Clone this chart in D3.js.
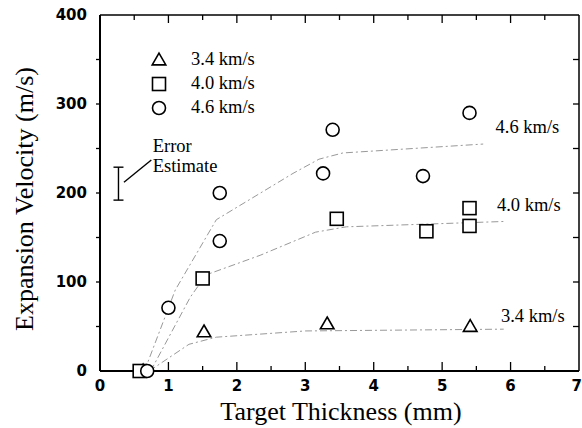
<!DOCTYPE html>
<html><head><meta charset="utf-8">
<script src="https://cdn.jsdelivr.net/npm/d3@7"></script>
<style>body{margin:0;background:#fff}svg{display:block}</style>
</head><body>
<svg id="c" width="582" height="428"></svg>
<script>
// ---- data ----
const seriesNames = ["3.4 km/s", "4.0 km/s", "4.6 km/s"];
const shapes = ["triangle", "square", "circle"];
const tri34 = [[0.63,0],[1.52,44],[3.32,53],[5.41,50]];
const sq40 = [[0.58,0],[1.5,104],[3.46,171],[4.77,157],[5.4,183],[5.4,163]];
const circ46 = [[0.69,0],[1.0,71],[1.75,146],[1.75,200],[3.26,222],[3.4,271],[4.72,219],[5.4,290]];
const fit34 = [[0.72,0],[1.3,30],[1.7,38],[3.0,45],[5.9,47]];
const fit40 = [[0.74,0],[1.32,83],[1.55,108],[2.34,130],[3.15,156],[3.6,162],[5.9,168]];
const fit46 = [[0.65,0],[1.1,91],[1.7,170],[2.82,222],[3.2,238],[3.55,245],[5.6,255]];
const fitLabels = [{t:"4.6 km/s",x:5.78,y:267},{t:"4.0 km/s",x:5.8,y:180},{t:"3.4 km/s",x:5.86,y:55}];
const errorBar = {x:0.27, lo:192, hi:229};
const xTicks = [0,1,2,3,4,5,6,7];
const yTicks = [0,100,200,300,400];

// ---- scales ----
const svg = d3.select("#c");
const x = d3.scaleLinear().domain([0,7]).range([100,579]);
const y = d3.scaleLinear().domain([0,400]).range([371,15]);

// fit lines
const line = d3.line().x(d=>x(d[0])).y(d=>y(d[1]));
[fit34,fit40,fit46].forEach(f=>{
  svg.append("path").attr("d",line(f)).attr("fill","none")
    .attr("stroke","#999").attr("stroke-width",1)
    .attr("stroke-dasharray","7,3,2,3");
});

// frame
const g = svg.append("g");
g.append("line").attr("x1",x(0)).attr("x2",x(7)).attr("y1",y(0)).attr("y2",y(0)).attr("stroke","#000").attr("stroke-width",2);
g.append("line").attr("x1",x(0)).attr("x2",x(0)).attr("y1",y(0)).attr("y2",y(400)).attr("stroke","#000").attr("stroke-width",2);
g.append("line").attr("x1",x(0)).attr("x2",x(7)).attr("y1",y(400)).attr("y2",y(400)).attr("stroke","#000").attr("stroke-width",1.5);
g.append("line").attr("x1",x(7)).attr("x2",x(7)).attr("y1",y(0)).attr("y2",y(400)).attr("stroke","#000").attr("stroke-width",1.5);

// ticks
const xMinor = d3.range(0.5,7,1);
const yMinor = d3.range(50,400,100);
const tickStyle = sel=>sel.attr("stroke","#000").attr("stroke-width",1.3);
xTicks.slice(1,-1).forEach(v=>{
  g.append("line").attr("x1",x(v)).attr("x2",x(v)).attr("y1",y(0)).attr("y2",y(0)-9).call(tickStyle);
  g.append("line").attr("x1",x(v)).attr("x2",x(v)).attr("y1",y(400)).attr("y2",y(400)+8).call(tickStyle);
});
xMinor.forEach(v=>{
  g.append("line").attr("x1",x(v)).attr("x2",x(v)).attr("y1",y(0)).attr("y2",y(0)-5).call(tickStyle);
  g.append("line").attr("x1",x(v)).attr("x2",x(v)).attr("y1",y(400)).attr("y2",y(400)+5).call(tickStyle);
});
yTicks.slice(1,-1).concat(yMinor).forEach(v=>{
  g.append("line").attr("x1",x(0)).attr("x2",x(0)-4).attr("y1",y(v)).attr("y2",y(v)).call(tickStyle);
  g.append("line").attr("x1",x(7)).attr("x2",x(7)-6).attr("y1",y(v)).attr("y2",y(v)).call(tickStyle);
});

// tick labels
const tickFont = "'DejaVu Sans', sans-serif";
const last = xTicks[xTicks.length-1];
g.selectAll(".xl").data(xTicks).join("text")
  .attr("x",d=>d===last ? 582 : x(d)).attr("y",y(0)+20)
  .attr("text-anchor",d=>d===last ? "end" : "middle")
  .attr("font-family",tickFont).attr("font-weight","bold")
  .attr("font-size",15).text(d=>d);
g.selectAll(".yl").data(yTicks).join("text").attr("x",x(0)-13).attr("y",d=>y(d)+5)
  .attr("text-anchor","end").attr("font-family",tickFont).attr("font-weight","bold")
  .attr("font-size",15).text(d=>d);

// axis titles
const serif = "'Liberation Serif', 'Times New Roman', serif";
svg.append("text").attr("x",341).attr("y",420).attr("text-anchor","middle")
  .attr("font-family",serif).attr("font-size",26).text("Target Thickness (mm)");
svg.append("text").attr("transform","translate(33,199) rotate(-90)").attr("text-anchor","middle")
  .attr("font-family",serif).attr("font-size",26).text("Expansion Velocity (m/s)");

// markers
function drawMarker(sel, shape, cx, cy){
  if(shape==="circle"){
    sel.append("circle").attr("cx",cx).attr("cy",cy).attr("r",6.5)
      .attr("fill","#fff").attr("stroke","#000").attr("stroke-width",1.6);
  } else if(shape==="square"){
    sel.append("rect").attr("x",cx-6.5).attr("y",cy-6.5).attr("width",13).attr("height",13)
      .attr("fill","#fff").attr("stroke","#000").attr("stroke-width",1.6);
  } else {
    const p = d3.symbol(d3.symbolTriangle, 80)();
    sel.append("path").attr("d",p).attr("transform",`translate(${cx},${cy+1})`)
      .attr("fill","#fff").attr("stroke","#000").attr("stroke-width",1.6);
  }
}
const mk = svg.append("g");
[[tri34,"triangle"],[sq40,"square"],[circ46,"circle"]].forEach(([arr,sh])=>{
  arr.forEach(d=>drawMarker(mk,sh,x(d[0]),y(d[1])));
});

// legend
const leg = svg.append("g");
seriesNames.forEach((n,i)=>{
  const by = 65 + i*24;
  drawMarker(leg, shapes[i], 159, by-5);
  leg.append("text").attr("x",191).attr("y",by).attr("font-family",serif)
    .attr("font-size",18.5).text(n);
});

// fit labels
svg.selectAll(".fl").data(fitLabels).join("text").attr("x",d=>x(d.x)).attr("y",d=>y(d.y))
  .attr("font-family",serif).attr("font-size",18.5).text(d=>d.t);

// error bar
const eb = svg.append("g").attr("stroke","#000").attr("stroke-width",1.4);
eb.append("line").attr("x1",x(errorBar.x)).attr("x2",x(errorBar.x)).attr("y1",y(errorBar.lo)).attr("y2",y(errorBar.hi));
[errorBar.lo,errorBar.hi].forEach(v=>eb.append("line").attr("x1",x(errorBar.x)-5).attr("x2",x(errorBar.x)+5).attr("y1",y(v)).attr("y2",y(v)));
eb.append("line").attr("x1",x(0.35)).attr("y1",y(212)).attr("x2",x(0.75)).attr("y2",y(237));
svg.append("text").attr("x",x(0.77)).attr("y",y(246)).attr("font-family",serif).attr("font-size",18.5).text("Error");
svg.append("text").attr("x",x(0.77)).attr("y",y(223.5)).attr("font-family",serif).attr("font-size",18.5).text("Estimate");
</script>
</body></html>
